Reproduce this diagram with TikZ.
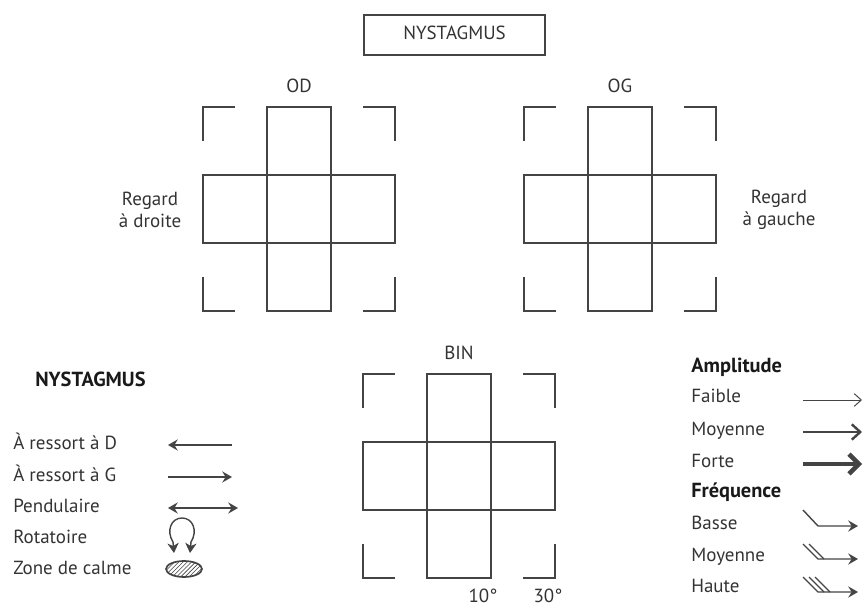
\documentclass[tikz,border=0pt]{standalone}
\usepackage{fontspec}
\setmainfont{PT Sans}
\usetikzlibrary{positioning,arrows.meta,patterns,shapes.geometric}

\definecolor{encre}{HTML}{333333}
\definecolor{trait}{HTML}{444444}

\tikzset{
  txt/.style={text=encre, inner sep=0pt, text height=9.5pt, text depth=3pt,
    font=\fontsize{13.5}{16}\selectfont},
  titre/.style={txt, text=black!90, font=\fontsize{14.5}{16}\selectfont\bfseries},
  champ/.style={draw=trait, line width=1pt},
  fleche/.style={draw=trait, line width=1pt, -{Stealth[length=7pt,width=8pt,inset=2.5pt]}},
}

% champ du regard : croix de 5 cases + coins
\newcommand{\grille}[1]{%
  \begin{scope}[shift={(#1)}]
    \draw[champ] (-96,-34) rectangle (96,34);
    \draw[champ] (-32,-102) rectangle (32,102);
    \draw[champ] (-96,-68) -- (-96,-102) -- (-64,-102);
    \draw[champ] (64,-102) -- (96,-102) -- (96,-68);
    \draw[champ] (-96,68) -- (-96,102) -- (-64,102);
    \draw[champ] (64,102) -- (96,102) -- (96,68);
  \end{scope}}

\begin{document}
\begin{tikzpicture}[x=0.025cm, y=-0.025cm]
\useasboundingbox (0,0) rectangle (864,610);

\node[txt, draw=trait, line width=1pt, minimum width=181*0.025cm, minimum height=40*0.025cm]
  (titre) at (454.5,35) {NYSTAGMUS};

% les trois champs
\coordinate (od) at (299,209);
\coordinate (og) at (620,209);
\coordinate (bin) at (459,476);
\grille{od}
\grille{og}
\grille{bin}
\node[txt] (lod) at (299,88) {OD};
\node[txt] (log) at (620,88) {OG};
\node[txt] (lbin) at (459,355) {BIN};
\node[txt, align=center, text height=, text depth=] (rdr) at (150,210) {Regard\\à droite};
\node[txt, align=center, text height=, text depth=] (rga) at (779,210) {Regard\\à gauche};
\node[txt] (dix) at (483,598) {10°};
\node[txt] (trente) at (548,598) {30°};

% legende gauche
\node[titre, anchor=west] (nys) at (35,382) {NYSTAGMUS};
\node[txt, anchor=west] (rd) at (13,445) {À ressort à D};
\node[txt, anchor=west] (rgch) at (13,477) {À ressort à G};
\node[txt, anchor=west] (pend) at (13,508) {Pendulaire};
\node[txt, anchor=west] (rot) at (13,539) {Rotatoire};
\node[txt, anchor=west] (calme) at (13,570) {Zone de calme};

\coordinate (d1) at (232,445); \coordinate (d2) at (168,445);
\coordinate (g1) at (168,477); \coordinate (g2) at (232,477);
\coordinate (p1) at (168,508); \coordinate (p2) at (238,508);
\draw[fleche] (d1) -- (d2);
\draw[fleche] (g1) -- (g2);
\draw[fleche, {Stealth[length=7pt,width=8pt,inset=2.5pt]}-{Stealth[length=7pt,width=8pt,inset=2.5pt]}] (p1) -- (p2);
\draw[draw=trait, line width=1pt, {Stealth[length=7pt,width=8pt,inset=2pt]}-{Stealth[length=7pt,width=8pt,inset=2pt]}]
  (174,553) -- (173,542) .. controls (166,531) and (171,518) .. (182,518)
  .. controls (193,518) and (198,531) .. (191,542) -- (190,553);
\node[draw=trait, line width=1.2pt, ellipse, pattern=north east lines, pattern color=trait,
  minimum width=36*0.025cm, minimum height=16*0.025cm, inner sep=0pt] (zc) at (184,569) {};

% legende droite
\node[titre, anchor=west] (ampl) at (691,368) {Amplitude};
\node[txt, anchor=west] (faible) at (691,398) {Faible};
\node[txt, anchor=west] (amoy) at (691,431) {Moyenne};
\node[txt, anchor=west] (forte) at (691,463) {Forte};
\node[titre, anchor=west] (freq) at (691,493) {Fréquence};
\node[txt, anchor=west] (basse) at (691,525) {Basse};
\node[txt, anchor=west] (fmoy) at (691,557) {Moyenne};
\node[txt, anchor=west] (haute) at (691,588) {Haute};

\coordinate (a1) at (803,400); \coordinate (a2) at (862,400);
\coordinate (b1) at (803,432); \coordinate (b2) at (862,432);
\coordinate (c1) at (803,464); \coordinate (c2) at (862,464);
\draw[fleche, line width=0.7pt, -{Straight Barb[length=5pt,width=9pt]}] (a1) -- (a2);
\draw[fleche, line width=1.7pt, -{Straight Barb[length=6pt,width=11pt]}] (b1) -- (b2);
\draw[fleche, line width=3.2pt, -{Straight Barb[length=7pt,width=14pt]}] (c1) -- (c2);

\coordinate (e1) at (803,510); \coordinate (e2) at (818,526); \coordinate (e3) at (858,526);
\draw[fleche] (e1) -- (e2) -- (e3);
\coordinate (f1) at (803,544); \coordinate (f2) at (818,559); \coordinate (f3) at (858,559);
\draw[fleche] (f1) -- (f2) -- (f3);
\draw[draw=trait, line width=1pt] (809,544) -- (824,559);
\coordinate (h1) at (803,577); \coordinate (h2) at (818,592); \coordinate (h3) at (858,592);
\draw[fleche] (h1) -- (h2) -- (h3);
\draw[draw=trait, line width=1pt] (809,577) -- (824,592);
\draw[draw=trait, line width=1pt] (815,577) -- (830,592);
\end{tikzpicture}
\end{document}
